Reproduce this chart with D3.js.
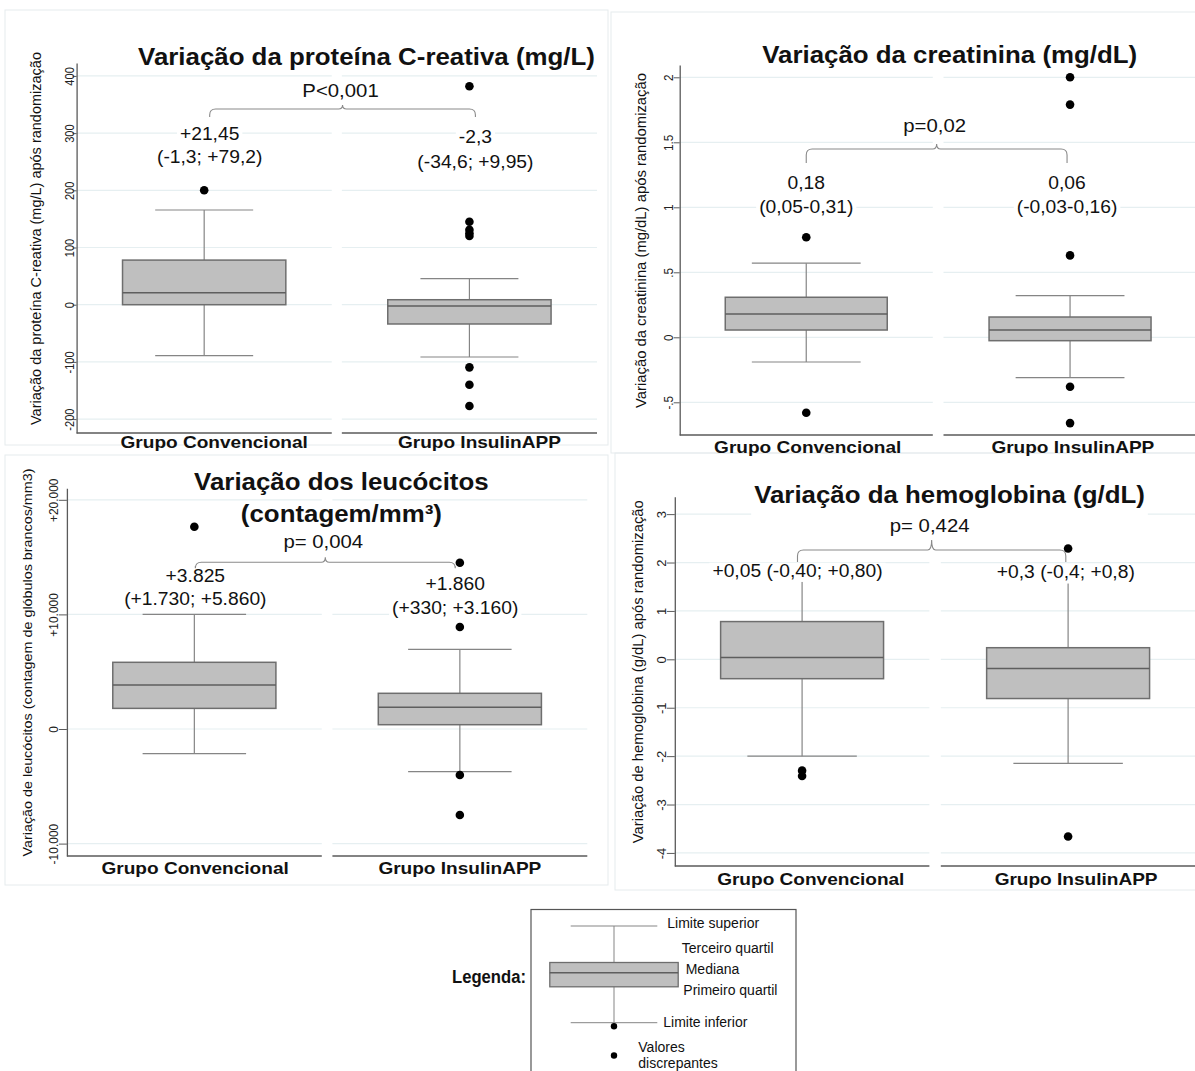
<!DOCTYPE html>
<html><head><meta charset="utf-8">
<script src="https://cdn.jsdelivr.net/npm/d3@7"></script>
<style>body{margin:0;background:#fff;} svg{display:block;font-family:"Liberation Sans",Arial,Helvetica,sans-serif;}</style>
</head><body><svg id="c" width="1195" height="1071"></svg>
<script>
// ---------------- DATA ----------------
const groups = ["Grupo Convencional", "Grupo InsulinAPP"];

// Proteína C-reativa (mg/L)
const pcrTicks = [-200, -100, 0, 100, 200, 300, 400];
const pcrTickLabels = ["-200", "-100", "0", "100", "200", "300", "400"];
const pcrQ1 = [0, -33.7], pcrMedian = [21, -2.3], pcrQ3 = [78, 8.7];
const pcrLow = [-89, -91.4], pcrHigh = [165.6, 45.5];
const pcrOutliers = [[200], [382, 145, 131, 125, 120, -109.5, -140, -177]];
const pcrAnnot = [["+21,45", "(-1,3; +79,2)"], ["-2,3", "(-34,6; +9,95)"]];
const pcrP = "P<0,001";

// Creatinina (mg/dL)
const creTicks = [-0.5, 0, 0.5, 1, 1.5, 2];
const creTickLabels = ["-.5", "0", ".5", "1", "1.5", "2"];
const creQ1 = [0.056, -0.026], creMedian = [0.18, 0.056], creQ3 = [0.308, 0.156];
const creLow = [-0.19, -0.31], creHigh = [0.57, 0.32];
const creOutliers = [[0.77, -0.58], [2.0, 1.79, 0.63, -0.38, -0.66]];
const creAnnot = [["0,18", "(0,05-0,31)"], ["0,06", "(-0,03-0,16)"]];
const creP = "p=0,02";

// Leucócitos (contagem/mm3)
const leuTicks = [-10000, 0, 10000, 20000];
const leuTickLabels = ["-10.000", "0", "+10.000", "+20.000"];
const leuQ1 = [1800, 375], leuMedian = [3840, 1890], leuQ3 = [5820, 3115];
const leuLow = [-2155, -3725], leuHigh = [10000, 6955];
const leuOutliers = [[17650], [14510, 8900, -4015, -7505]];
const leuAnnot = [["+3.825", "(+1.730; +5.860)"], ["+1.860", "(+330; +3.160)"]];
const leuP = "p= 0,004";

// Hemoglobina (g/dL)
const hemTicks = [-4, -3, -2, -1, 0, 1, 2, 3];
const hemTickLabels = ["-4", "-3", "-2", "-1", "0", "1", "2", "3"];
const hemQ1 = [-0.40, -0.81], hemMedian = [0.04, -0.19], hemQ3 = [0.78, 0.24];
const hemLow = [-2.0, -2.15], hemHigh = [1.9, 1.9];
const hemOutliers = [[-2.3, -2.41], [2.29, -3.66]];
const hemAnnot = [["+0,05 (-0,40; +0,80)"], ["+0,3 (-0,4; +0,8)"]];
const hemP = "p= 0,424";

// Legend
const legendItems = ["Limite superior", "Terceiro quartil", "Mediana", "Primeiro quartil", "Limite inferior"];
const legendOutlierLabel = ["Valores", "discrepantes"];
const legendTitle = "Legenda:";

// ---------------- STYLE ----------------
const gridColor = "#e6eff1", axisColor = "#5a5a5a", boxFill = "#bfbfbf", boxStroke = "#6e6e6e", whiskerColor = "#858585";
const svg = d3.select("#c");

function stretch(sel, k) {
  sel.each(function () {
    const l = this.getComputedTextLength();
    d3.select(this).attr("textLength", l * k).attr("lengthAdjust", "spacingAndGlyphs");
  });
}

// faint frames of the combined images
[[5, 10, 603, 435], [611, 12, 590, 441], [5, 455, 603, 430], [615, 453, 590, 437]].forEach(r => {
  svg.append("rect").attr("x", r[0]).attr("y", r[1]).attr("width", r[2]).attr("height", r[3])
    .attr("fill", "none").attr("stroke", "#e6ebed").attr("stroke-width", 1);
});

function textWithBg(g, str, x, yb, fs, k, bold, bg, bgDrop) {
  const bgR = bg ? g.append("rect").attr("fill", "#fff") : null;
  const t = g.append("text").attr("x", x).attr("y", yb).attr("text-anchor", "middle")
    .attr("font-size", fs).attr("font-weight", bold ? "bold" : "normal").attr("fill", "#111").text(str);
  const l = t.node().getComputedTextLength() * k;
  t.attr("textLength", l).attr("lengthAdjust", "spacingAndGlyphs");
  if (bgR) {
    bgR.attr("x", x - l / 2 - 3).attr("width", l + 6)
      .attr("y", yb - fs * 0.8).attr("height", fs * (0.8 + (bgDrop || 0.3)));
  }
  return t;
}

function drawPanel(cfg, d) {
  const g = svg.append("g");
  const x = d3.scaleBand().domain(groups).range([cfg.axisX, cfg.xEnd]).paddingInner(cfg.pad).paddingOuter(0);
  const y = d3.scaleLinear().domain(cfg.domain).range([cfg.yBot, cfg.yTop]);
  const bw = x.bandwidth();

  // grid lines per section
  groups.forEach(gr => {
    g.selectAll(null).data(d.ticks).enter().append("line")
      .attr("x1", x(gr)).attr("x2", x(gr) + bw)
      .attr("y1", v => y(v)).attr("y2", v => y(v))
      .attr("stroke", gridColor).attr("stroke-width", 1.2);
  });

  // y axis
  const ax = d3.axisLeft(y).tickValues(d.ticks)
    .tickFormat(v => d.tickLabels[d.ticks.indexOf(v)]).tickSize(cfg.tickSize).tickSizeOuter(0);
  const axg = g.append("g").attr("transform", `translate(${cfg.axisX},0)`).call(ax)
    .attr("font-family", null).attr("font-size", null);
  axg.select(".domain").attr("stroke", axisColor).attr("stroke-width", 1.3);
  axg.selectAll(".tick line").attr("stroke", axisColor);
  axg.selectAll(".tick text").attr("transform", "rotate(-90)").attr("x", 0).attr("y", -cfg.tickGap)
    .attr("dy", 0).attr("text-anchor", "middle").attr("font-size", 13).attr("fill", "#222")
    .call(stretch, cfg.tickStretch);

  // x axis segments
  groups.forEach(gr => {
    g.append("line").attr("x1", x(gr)).attr("x2", x(gr) + bw).attr("y1", cfg.yBot).attr("y2", cfg.yBot)
      .attr("stroke", axisColor).attr("stroke-width", 1.3);
  });

  // boxes
  groups.forEach((gr, i) => {
    const cx = x(gr) + bw / 2, boxW = bw * 0.64, capW = bw * cfg.capFrac;
    g.append("line").attr("x1", cx).attr("x2", cx).attr("y1", y(d.high[i])).attr("y2", y(d.q3[i]))
      .attr("stroke", whiskerColor).attr("stroke-width", 1.2);
    g.append("line").attr("x1", cx).attr("x2", cx).attr("y1", y(d.q1[i])).attr("y2", y(d.low[i]))
      .attr("stroke", whiskerColor).attr("stroke-width", 1.2);
    [d.high[i], d.low[i]].forEach(v => g.append("line").attr("x1", cx - capW / 2).attr("x2", cx + capW / 2)
      .attr("y1", y(v)).attr("y2", y(v)).attr("stroke", whiskerColor).attr("stroke-width", 1.2));
    g.append("rect").attr("x", cx - boxW / 2).attr("width", boxW)
      .attr("y", y(d.q3[i])).attr("height", y(d.q1[i]) - y(d.q3[i]))
      .attr("fill", boxFill).attr("stroke", boxStroke).attr("stroke-width", 1.5);
    g.append("line").attr("x1", cx - boxW / 2).attr("x2", cx + boxW / 2)
      .attr("y1", y(d.median[i])).attr("y2", y(d.median[i])).attr("stroke", "#5e5e5e").attr("stroke-width", 1.5);
    g.selectAll(null).data(d.outliers[i]).enter().append("circle")
      .attr("cx", cx).attr("cy", v => y(v)).attr("r", 4.3).attr("fill", "#000");
  });

  // annotations
  const ax0 = x(groups[0]) + bw / 2 + cfg.annotDx[0];
  const ax1 = x(groups[1]) + bw / 2 + cfg.annotDx[1];
  [ax0, ax1].forEach((axx, i) => {
    d.annot[i].forEach((s, j) => textWithBg(g, s, axx, cfg.annotY[i][j], 17.5, 1.1, false, true));
  });

  // bracket
  const mid = (ax0 + ax1) / 2, r = 6;
  const [by, be, bp] = cfg.brY;
  g.append("path").attr("fill", "none").attr("stroke", "#8a8a8a").attr("stroke-width", 1.1)
    .attr("d", `M${ax0},${be} L${ax0},${by + r} Q${ax0},${by} ${ax0 + r},${by} L${mid - 4},${by} Q${mid},${by} ${mid},${bp} Q${mid},${by} ${mid + 4},${by} L${ax1 - r},${by} Q${ax1},${by} ${ax1},${by + r} L${ax1},${be}`);
  textWithBg(g, d.p, mid - 2, cfg.pY, 18.5, 1.1, false, true);

  // title
  cfg.title.forEach((s, j) => textWithBg(g, s, cfg.titleX, cfg.titleY[j], 23.5, 1.1, true, cfg.titleBg, 0.5));

  // x labels
  groups.forEach((gr, i) => {
    textWithBg(g, gr, x(gr) + bw / 2 + cfg.xlabDx[i], cfg.xlabY, 17, 1.12, true, false);
  });

  // y label
  g.append("text").attr("transform", `translate(${cfg.ylabX},${cfg.ylabY}) rotate(-90)`)
    .attr("text-anchor", "middle").attr("font-size", cfg.ylabFs).attr("fill", "#111")
    .attr("textLength", cfg.ylabLen).attr("lengthAdjust", "spacingAndGlyphs").text(cfg.ylab);
}

drawPanel({
  axisX: 76.6, xEnd: 597, pad: 0.038, yTop: 63, yBot: 433, domain: [-224.3, 422.6],
  tickSize: 4, tickGap: 3, tickStretch: 0.85, capFrac: 0.384,
  annotDx: [5.5, 6], annotY: [[140, 163], [143, 167.7]], brY: [109, 117, 105], pY: 96.7,
  title: ["Variação da proteína C-reativa (mg/L)"], titleX: 366.5, titleY: [65], titleBg: false,
  xlabDx: [10, 10], xlabY: 448,
  ylab: "Variação da proteína C-reativa (mg/L) após randomização", ylabX: 40.6, ylabY: 238.5, ylabLen: 373, ylabFs: 14
}, { ticks: pcrTicks, tickLabels: pcrTickLabels, q1: pcrQ1, median: pcrMedian, q3: pcrQ3, low: pcrLow, high: pcrHigh, outliers: pcrOutliers, annot: pcrAnnot, p: pcrP });

drawPanel({
  axisX: 679.7, xEnd: 1196.6, pad: 0.0406, yTop: 65, yBot: 435, domain: [-0.7515, 2.0946],
  tickSize: 6, tickGap: 6.4, tickStretch: 0.9, capFrac: 0.43,
  annotDx: [0, -3], annotY: [[189, 213.3], [189, 213.3]], brY: [149, 163, 144], pY: 131.7,
  title: ["Variação da creatinina (mg/dL)"], titleX: 949.7, titleY: [63.3], titleBg: false,
  xlabDx: [1.5, 2.8], xlabY: 453,
  ylab: "Variação da creatinina (mg/dL) após randomização", ylabX: 645.6, ylabY: 240.5, ylabLen: 335, ylabFs: 14
}, { ticks: creTicks, tickLabels: creTickLabels, q1: creQ1, median: creMedian, q3: creQ3, low: creLow, high: creHigh, outliers: creOutliers, annot: creAnnot, p: creP });

drawPanel({
  axisX: 66.9, xEnd: 587.3, pad: 0.04, yTop: 488.3, yBot: 856, domain: [-11082, 21004],
  tickSize: 8, tickGap: 9.4, tickStretch: 0.92, capFrac: 0.406,
  annotDx: [1, -4.6], annotY: [[581.7, 605], [590, 614]], brY: [562.3, 566, 557.3], pY: 548.3,
  title: ["Variação dos leucócitos", "(contagem/mm³)"], titleX: 341.4, titleY: [490, 521.7], titleBg: false,
  xlabDx: [0.8, 0], xlabY: 874,
  ylab: "Variação de leucócitos (contagem de glóbulos brancos/mm3)", ylabX: 32.3, ylabY: 662.5, ylabLen: 388, ylabFs: 13
}, { ticks: leuTicks, tickLabels: leuTickLabels, q1: leuQ1, median: leuMedian, q3: leuQ3, low: leuLow, high: leuHigh, outliers: leuOutliers, annot: leuAnnot, p: leuP });

drawPanel({
  axisX: 674.8, xEnd: 1195.4, pad: 0.043, yTop: 496.7, yBot: 866, domain: [-4.27, 3.36],
  tickSize: 8, tickGap: 8.8, tickStretch: 1.0, capFrac: 0.43,
  annotDx: [-4.6, -2.3], annotY: [[576.7], [578.3]], brY: [550, 562, 540], pY: 531.7,
  title: ["Variação da hemoglobina (g/dL)"], titleX: 949.5, titleY: [503.3], titleBg: true,
  xlabDx: [8.7, 8], xlabY: 885,
  ylab: "Variação de hemoglobina (g/dL) após randomização", ylabX: 643, ylabY: 671.7, ylabLen: 343, ylabFs: 14
}, { ticks: hemTicks, tickLabels: hemTickLabels, q1: hemQ1, median: hemMedian, q3: hemQ3, low: hemLow, high: hemHigh, outliers: hemOutliers, annot: hemAnnot, p: hemP });

// ---------------- LEGEND ----------------
(function () {
  const lg = svg.append("g").attr("transform", "translate(531,909.5)");
  lg.append("rect").attr("x", 0).attr("y", 0).attr("width", 265).attr("height", 175)
    .attr("fill", "#fff").attr("stroke", "#555").attr("stroke-width", 1.2);
  const ly = d3.scaleLinear().domain([0, 1]).range([113.2, 16.5]); // 0 = lower limit, 1 = upper limit
  const cx = 83, boxW = 128.4, capW = 86.6;
  const key = { hi: 1, q3: 0.6225, med: 0.5165, q1: 0.3713, lo: 0 };
  lg.append("line").attr("x1", cx).attr("x2", cx).attr("y1", ly(key.hi)).attr("y2", ly(key.q3)).attr("stroke", whiskerColor);
  lg.append("line").attr("x1", cx).attr("x2", cx).attr("y1", ly(key.q1)).attr("y2", ly(key.lo)).attr("stroke", whiskerColor);
  [key.hi, key.lo].forEach(v => lg.append("line").attr("x1", cx - capW / 2).attr("x2", cx + capW / 2)
    .attr("y1", ly(v)).attr("y2", ly(v)).attr("stroke", whiskerColor));
  lg.append("rect").attr("x", cx - boxW / 2).attr("width", boxW).attr("y", ly(key.q3)).attr("height", ly(key.q1) - ly(key.q3))
    .attr("fill", boxFill).attr("stroke", boxStroke).attr("stroke-width", 1.3);
  lg.append("line").attr("x1", cx - boxW / 2).attr("x2", cx + boxW / 2).attr("y1", ly(key.med)).attr("y2", ly(key.med))
    .attr("stroke", "#5e5e5e").attr("stroke-width", 1.3);
  lg.append("circle").attr("cx", cx).attr("cy", ly(key.lo) + 3.5).attr("r", 3.2).attr("fill", "#000");
  lg.append("circle").attr("cx", cx).attr("cy", 146).attr("r", 3.2).attr("fill", "#000");

  const labX = [136.3, 150.7, 154.7, 152.3, 132.3];
  const labY = [18.3, 43.8, 64.5, 85.5, 117.2];
  legendItems.forEach((s, i) => lg.append("text").attr("x", labX[i]).attr("y", labY[i])
    .attr("font-size", 14).attr("fill", "#111").text(s));
  legendOutlierLabel.forEach((s, i) => lg.append("text").attr("x", 107.3).attr("y", 142.5 + i * 15.5)
    .attr("font-size", 14).attr("fill", "#111").text(s));
  svg.append("text").attr("x", 526).attr("y", 983.3).attr("text-anchor", "end")
    .attr("font-size", 18).attr("font-weight", "bold").attr("fill", "#111")
    .attr("textLength", 74).attr("lengthAdjust", "spacingAndGlyphs").text(legendTitle);
})();
</script></body></html>
